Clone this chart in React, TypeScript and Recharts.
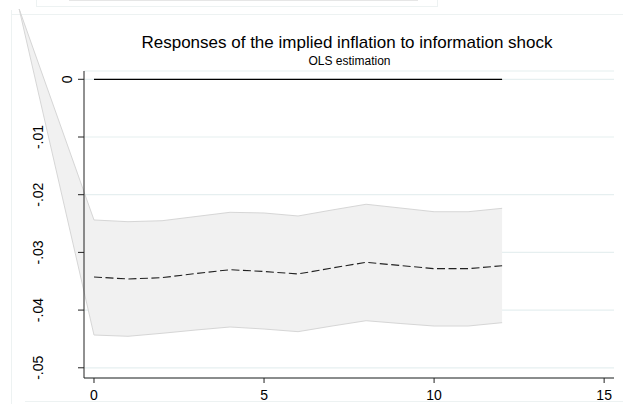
import React from 'react';
import { ComposedChart, Area, Line, XAxis, YAxis, CartesianGrid } from 'recharts';

// horizon steps; the first row is the stray apex of the band that sits off the plot
const steps = [-2.2, 0, 1, 2, 3, 4, 5, 6, 7, 8, 9, 10, 11, 12];
const estimate = [null, -0.03426, -0.03461, -0.03438, -0.03366, -0.033, -0.03331, -0.03374, -0.0327, -0.03172, -0.03227, -0.03282, -0.03282, -0.03231];
const upper = [0.01218, -0.02438, -0.02468, -0.02451, -0.02378, -0.02305, -0.02317, -0.02369, -0.02265, -0.02166, -0.0223, -0.02295, -0.02295, -0.02236];
const lower = [0.01218, -0.04432, -0.04454, -0.04402, -0.04345, -0.04293, -0.04328, -0.04374, -0.04276, -0.04184, -0.04232, -0.04276, -0.04276, -0.04218];
const xTicks = [0, 5, 10, 15];
const yTicks = [0, -0.01, -0.02, -0.03, -0.04, -0.05];

const data = steps.map((s, i) => ({
  step: s,
  band: [lower[i], upper[i]],
  est: estimate[i],
  zero: estimate[i] === null ? null : 0,
}));

const FONT = '"Liberation Sans", Arial, Helvetica, sans-serif';

const fmtY = (v: number) => (v === 0 ? '0' : v.toFixed(2).replace('0.', '.'));

const YTick = (props: any) => {
  const { x, y, payload } = props;
  const label = fmtY(payload.value);
  const bx = x - (label.length - 1) * 9.6;
  return (
    <text x={bx} y={y} transform={`rotate(-90 ${bx} ${y})`} textAnchor="middle" fontSize={14} fill="#000" fontFamily={FONT}>
      {label}
    </text>
  );
};

const faint = '#edf2f2';

export default function App() {
  return (
    <div style={{ position: 'absolute', left: 0, top: 0, width: 623, height: 404, background: '#fff', overflow: 'hidden', fontFamily: FONT }}>
      <style>{`.band-area [clip-path] { clip-path: none !important; }`}</style>
      {/* faint frame edges of the surrounding graph region */}
      <div style={{ position: 'absolute', left: 36, top: -1, width: 400, height: 6, border: `1px solid ${faint}` }} />
      <div style={{ position: 'absolute', left: 69, top: 0, width: 349, height: 1, background: '#e6e6e6' }} />
      <div style={{ position: 'absolute', left: 11, top: 10, width: 1, height: 394, background: faint }} />
      <div style={{ position: 'absolute', left: 11, top: 14, width: 612, height: 1, background: faint }} />
      <div style={{ position: 'absolute', left: 25, top: 401, width: 598, height: 1, background: faint }} />

      <div style={{ position: 'absolute', left: 84, top: 33.5, width: 526, textAlign: 'center', fontSize: 17, lineHeight: '17px', color: '#000' }}>
        Responses of the implied inflation to information shock
      </div>
      <div style={{ position: 'absolute', left: 84, top: 55, width: 531, textAlign: 'center', fontSize: 12, lineHeight: '12px', color: '#000' }}>
        OLS estimation
      </div>

      <div style={{ position: 'absolute', left: 0, top: 0 }}>
        <ComposedChart width={623} height={404} data={data} margin={{ top: 71, right: 9, left: 24, bottom: 6 }}>
          <CartesianGrid horizontal vertical={false} stroke="#e6eff0" strokeWidth={1.2} />
          <XAxis
            dataKey="step"
            type="number"
            domain={[-0.294, 15.29]}
            allowDataOverflow
            ticks={xTicks}
            height={20}
            tickSize={5}
            tickMargin={7}
            stroke="#222"
            tick={{ fontSize: 14, fill: '#000', fontFamily: FONT }}
          />
          <YAxis
            type="number"
            domain={[-0.05177, 0.00144]}
            allowDataOverflow
            ticks={yTicks}
            width={60}
            tickSize={6}
            tickMargin={6}
            stroke="#222"
            tick={<YTick />}
          />
          <Area
            className="band-area"
            dataKey="band"
            type="linear"
            fill="#f1f1f1"
            fillOpacity={1}
            stroke="#d6d6d6"
            strokeWidth={1}
            isAnimationActive={false}
            dot={false}
            activeDot={false}
          />
          <Line dataKey="zero" type="linear" stroke="#000" strokeWidth={1.3} dot={false} activeDot={false} isAnimationActive={false} />
          <Line dataKey="est" type="linear" stroke="#222" strokeWidth={1.1} strokeDasharray="8 3.5" dot={false} activeDot={false} isAnimationActive={false} />
        </ComposedChart>
      </div>
    </div>
  );
}
